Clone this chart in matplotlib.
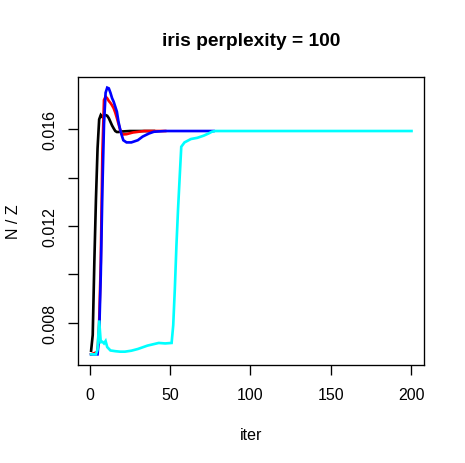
import matplotlib
matplotlib.use("Agg")
import matplotlib.pyplot as plt

# ---- data ----
black_iter = [1, 2, 3, 4, 5, 6, 7, 8, 9, 10, 11, 12, 13, 14, 15, 16, 17, 18, 20, 25, 40]
black_val = [0.00685, 0.0075, 0.0105, 0.0131, 0.0152, 0.0164, 0.01658, 0.01650, 0.01657,
             0.01658, 0.01655, 0.01645, 0.01630, 0.01615, 0.01603, 0.01592, 0.01588,
             0.01588, 0.01590, 0.01592, 0.01592]

red_iter = [1, 5, 6, 7, 8, 9, 10, 11, 12, 13, 14, 15, 16, 17, 18, 19, 20, 21, 23, 27, 34, 47]
red_val = [0.0067, 0.0068, 0.0080, 0.0105, 0.0150, 0.0172, 0.01734, 0.01727, 0.01716,
           0.01708, 0.01698, 0.01686, 0.01668, 0.01646, 0.01622, 0.01598, 0.01580,
           0.01578, 0.01579, 0.01586, 0.01592, 0.01592]

blue_iter = [1, 5, 6, 7, 8, 9, 10, 11, 12, 13, 14, 15, 17, 18, 19, 20, 21, 23, 26, 30, 33,
             37, 40, 47, 77]
blue_val = [0.0067, 0.0067, 0.0075, 0.0100, 0.0135, 0.0162, 0.0175, 0.01771, 0.01768,
            0.01750, 0.01728, 0.01713, 0.01672, 0.01630, 0.01600, 0.01575, 0.01554,
            0.01545, 0.01545, 0.01554, 0.01569, 0.01582, 0.01589, 0.01592, 0.01592]

cyan_iter = [1, 4, 5, 6, 7, 8, 9, 10, 11, 13, 16, 19, 22, 26, 30, 36, 43, 47, 51, 52, 53,
             54, 55, 56, 57, 59, 63, 67, 71, 74, 76, 78, 200]
cyan_val = [0.0067, 0.0067, 0.0069, 0.0081, 0.0072, 0.00722, 0.00715, 0.00725, 0.0070,
            0.00686, 0.00683, 0.00681, 0.00681, 0.00685, 0.00692, 0.00706, 0.00717,
            0.00715, 0.00717, 0.0079, 0.0094, 0.0112, 0.0127, 0.0140, 0.01527, 0.01545,
            0.01559, 0.01564, 0.01573, 0.01582, 0.01589, 0.01592, 0.01592]

x_ticks = [0, 50, 100, 150, 200]
y_ticks = [0.008, 0.010, 0.012, 0.014, 0.016]
y_tick_labels = ["0.008", "", "0.012", "", "0.016"]

title = "iris perplexity = 100"
x_label = "iter"
y_label = "N / Z"

series = [
    (black_iter, black_val, "#000000"),
    (red_iter, red_val, "#FF0000"),
    (blue_iter, blue_val, "#0000FF"),
    (cyan_iter, cyan_val, "#00FFFF"),
]

# ---- figure ----
W, H = 465, 464
plt.rcParams["font.family"] = ["Liberation Sans", "DejaVu Sans"]
fig = plt.figure(figsize=(W / 100, H / 100), dpi=100)
ax = fig.add_axes([78.3 / W, (H - 366) / H, 346 / W, 288 / H])

for xs, ys, c in series:
    ax.plot(xs, ys, color=c, lw=1.92, solid_joinstyle="miter")

# R-style 4% axis expansion
all_x = [v for s in series for v in s[0]]
all_y = [v for s in series for v in s[1]]
xr = max(all_x) - min(all_x)
yr = max(all_y) - min(all_y)
ax.set_xlim(min(all_x) - 0.04 * xr, max(all_x) + 0.04 * xr)
ax.set_ylim(min(all_y) - 0.04 * yr, max(all_y) + 0.04 * yr)

ax.set_xticks(x_ticks)
ax.set_xticklabels([str(t) for t in x_ticks])
ax.set_yticks(y_ticks)
ax.set_yticklabels(y_tick_labels, rotation=90, va="center")

for sp in ax.spines.values():
    sp.set_linewidth(0.96)
ax.tick_params(axis="both", direction="out", length=6.9, width=0.96,
               labelsize=11.5, colors="black")
ax.tick_params(axis="x", pad=9)
ax.tick_params(axis="y", pad=8)

fig.text(251.3 / W, 1 - 46 / H, title, ha="center", va="baseline",
         fontsize=13.8, fontweight="bold")
fig.text(251.3 / W, 1 - 440 / H, x_label, ha="center", va="baseline", fontsize=11.5)
fig.text(18.3 / W, 1 - 221.7 / H, y_label, ha="center", va="baseline",
         rotation=90, rotation_mode="anchor", fontsize=11.5)

fig.savefig("out.png", dpi=100, facecolor="white")
